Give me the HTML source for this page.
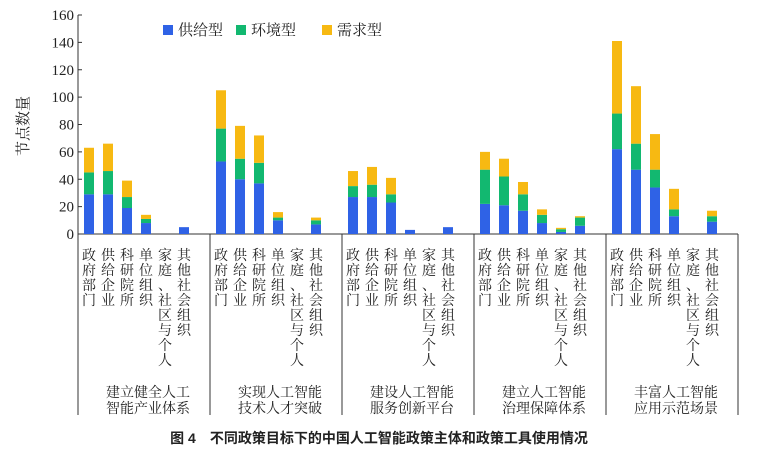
<!DOCTYPE html>
<html><head><meta charset="utf-8">
<style>
html,body{margin:0;padding:0;background:#fff;}
svg{display:block;}
text{font-family:"Liberation Serif","Noto Serif CJK SC",serif;fill:#222;}
</style></head>
<body>
<svg id="chart" width="758" height="458" viewBox="0 0 758 458">
<g id="axes"></g><g id="bars"></g><g id="labels"></g>
<text x="28" y="126" font-size="15" text-anchor="middle" transform="rotate(-90 28 126)" style="font-family:'Liberation Serif','Noto Serif CJK SC','Noto Sans CJK SC',serif">节点数量</text>
<g>
<rect x="163" y="25" width="10" height="10" fill="#2f62e6"/>
<text x="178" y="35" font-size="15">供给型</text>
<rect x="236" y="25" width="10" height="10" fill="#12b870"/>
<text x="251" y="35" font-size="15">环境型</text>
<rect x="322" y="25" width="10" height="10" fill="#f7b912"/>
<text x="337" y="35" font-size="15">需求型</text>
</g>
<text x="379" y="443" font-size="14" font-weight="bold" text-anchor="middle" style="font-family:'Liberation Sans','Noto Sans CJK SC',sans-serif">图 4　不同政策目标下的中国人工智能政策主体和政策工具使用情况</text>
</svg>
<script>
const groups=[["建立健全人工","智能产业体系"],["实现人工智能","技术人才突破"],["建设人工智能","服务创新平台"],["建立人工智能","治理保障体系"],["丰富人工智能","应用示范场景"]];
const actors=["政府部门","供给企业","科研院所","单位组织","家庭、社区与个人","其他社会组织"];
const supply=[29,29,19,8,0,5, 53,40,37,10,0,7, 27,27,23,3,0,5, 22,21,17,8,1.5,6, 62,47,34,13,0,9];
const environment=[16,17,8,3,0,0, 24,15,15,2,0,3, 8,9,6,0,0,0, 25,21,12,6,2,6, 26,19,13,5,0,4];
const demand=[18,20,12,3,0,0, 28,24,20,4,0,2, 11,13,12,0,0,0, 13,13,9,4,1,1, 53,42,26,15,0,4];
const yTicks=[0,20,40,60,80,100,120,140,160];

const NS="http://www.w3.org/2000/svg";
const x0=78,x1=738,y0=234,yTop=15,gw=(x1-x0)/5;
const y=v=>y0-(v/160)*(y0-yTop);
const bx=(g,i)=>x0+g*gw+11+i*19;
function mk(tag,attrs,parent,txt){const e=document.createElementNS(NS,tag);for(const k in attrs)e.setAttribute(k,attrs[k]);if(txt!==undefined)e.textContent=txt;parent.appendChild(e);return e;}
const axes=document.getElementById('axes'),bars=document.getElementById('bars'),labels=document.getElementById('labels');
let e=mk('line',{x1:x0,y1:yTop,x2:x0,y2:415,stroke:'#333','stroke-width':1},axes);


e=mk('line',{x1:x0,y1:y0,x2:x1,y2:y0,stroke:'#333','stroke-width':1},axes);


yTicks.forEach(t=>{
  let l=mk('line',{x1:x0,y1:y(t),x2:x0+4,y2:y(t),stroke:'#333'},axes);
  
  
  let tx=mk('text',{x:74,y:y(t)+5,'font-size':15,'text-anchor':'end'},axes,String(t));
  
  
});
for(let g=1;g<=5;g++){
  let l=mk('line',{x1:x0+g*gw,y1:y0,x2:x0+g*gw,y2:415,stroke:'#333'},axes);
  
  
}
const cols=['#2f62e6','#12b870','#f7b912'];
const series=[supply,environment,demand];
groups.forEach((gl,g)=>{
  actors.forEach((a,i)=>{
    const k=g*6+i;let base=0;const cx=bx(g,i);
    series.forEach((s,si)=>{
      const v=s[k];if(v<=0)return;
      const r=mk('rect',{x:cx-5,y:y(base+v),width:10,height:y(base)-y(base+v),fill:cols[si]},bars);
      
      
      base+=v;
    });
    const t=mk('text',{'font-size':14,'text-anchor':'middle'},labels);
    
    
    [...a].forEach((ch,ci)=>{mk('tspan',{x:cx,y:260+ci*15},t,ch);});
  });
  const cx=x0+g*gw+gw/2+4;
  const t=mk('text',{x:cx,y:397,'font-size':14,'text-anchor':'middle'},labels,gl[0]);
  
  
  const t2=mk('text',{x:cx,y:413,'font-size':14,'text-anchor':'middle'},labels,gl[1]);
  
  
});
</script>
</body></html>
